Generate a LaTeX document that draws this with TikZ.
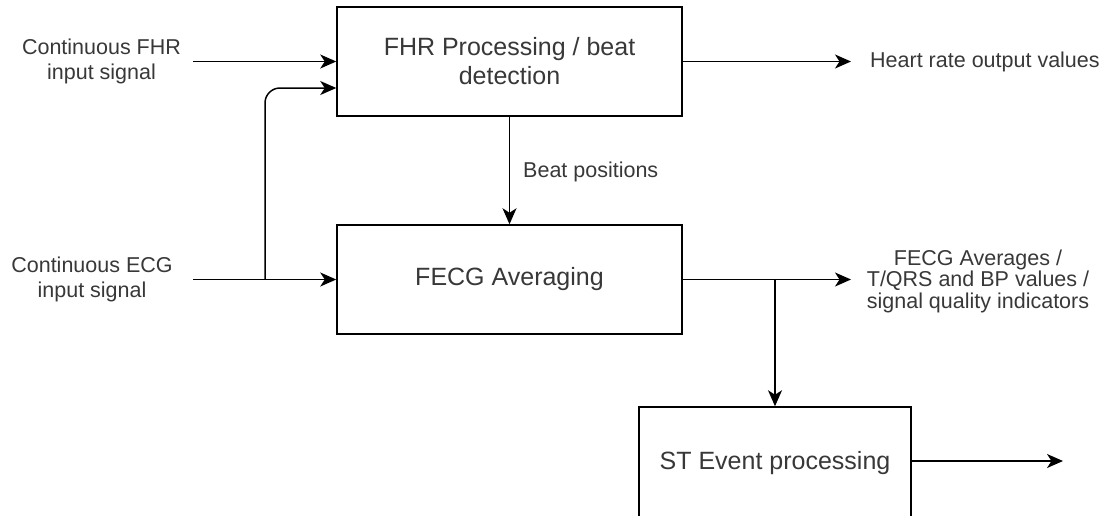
\documentclass[tikz,border=0pt]{standalone}
\usepackage{fontspec}
\setmainfont{Liberation Sans}
\usetikzlibrary{arrows.meta}
\tikzset{
  box/.style={draw=black, line width=1.5pt, fill=white, align=center, inner sep=0pt,
    font=\fontsize{25}{29}\selectfont, text=black!78},
  lbl/.style={align=center, inner sep=0pt, font=\fontsize{21.5}{25}\selectfont, text=black!78},
  lbltight/.style={align=center, inner sep=0pt, font=\fontsize{21.5}{21.5}\selectfont, text=black!78},
  arr/.style={line width=1.5pt, draw=black, -{Stealth[length=16pt,width=14pt,inset=4.5pt]}}
}
\begin{document}
\begin{tikzpicture}[x=1pt,y=-1pt]
\useasboundingbox (0,0) rectangle (1108,515);
% boxes
\node[box, minimum width=345pt, minimum height=109pt] (fhr) at (509.5,61.5) {FHR Processing / beat\\detection};
\node[box, minimum width=345pt, minimum height=109pt] (fecg) at (509.5,279.5) {FECG Averaging};
\node[box, minimum width=272pt, minimum height=111pt, text height=18pt, text depth=5pt] (st) at (775,462.5) {ST Event processing};
% labels
\node[lbl] (in1) at (101.5,61.5) {Continuous FHR\\input signal};
\node[lbl] (in2) at (92,279.5) {Continuous ECG\\input signal};
\node[lbl, anchor=west] (out1) at (870,61.5) {Heart rate output values};
\node[lbltight] (out2) at (978,281) {FECG Averages /\\T/QRS and BP values /\\signal quality indicators};
\node[lbl, anchor=west] (beat) at (523,172) {Beat positions};
% connector ends
\coordinate (s1) at (193,61.5);
\coordinate (s2) at (193,279.5);
\coordinate (j) at (265,279.5);
\coordinate (o1) at (851,61.5);
\coordinate (o2) at (851,279.5);
\coordinate (o3) at (1063,461);
% connectors
\draw[arr] (s1) -- (fhr.west);
\draw[arr] (s2) -- (fecg.west);
\draw[arr, rounded corners=15pt] (j) |- ([yshift=-26.5pt]fhr.west);
\draw[arr] (fhr.south) -- (fecg.north);
\draw[arr] (fhr.east) -- (o1);
\draw[arr] (fecg.east) -- (o2);
\draw[arr] (fecg.east -| st.north) -- (st.north);
\draw[arr] (st.east |- o3) -- (o3);
\end{tikzpicture}
\end{document}
